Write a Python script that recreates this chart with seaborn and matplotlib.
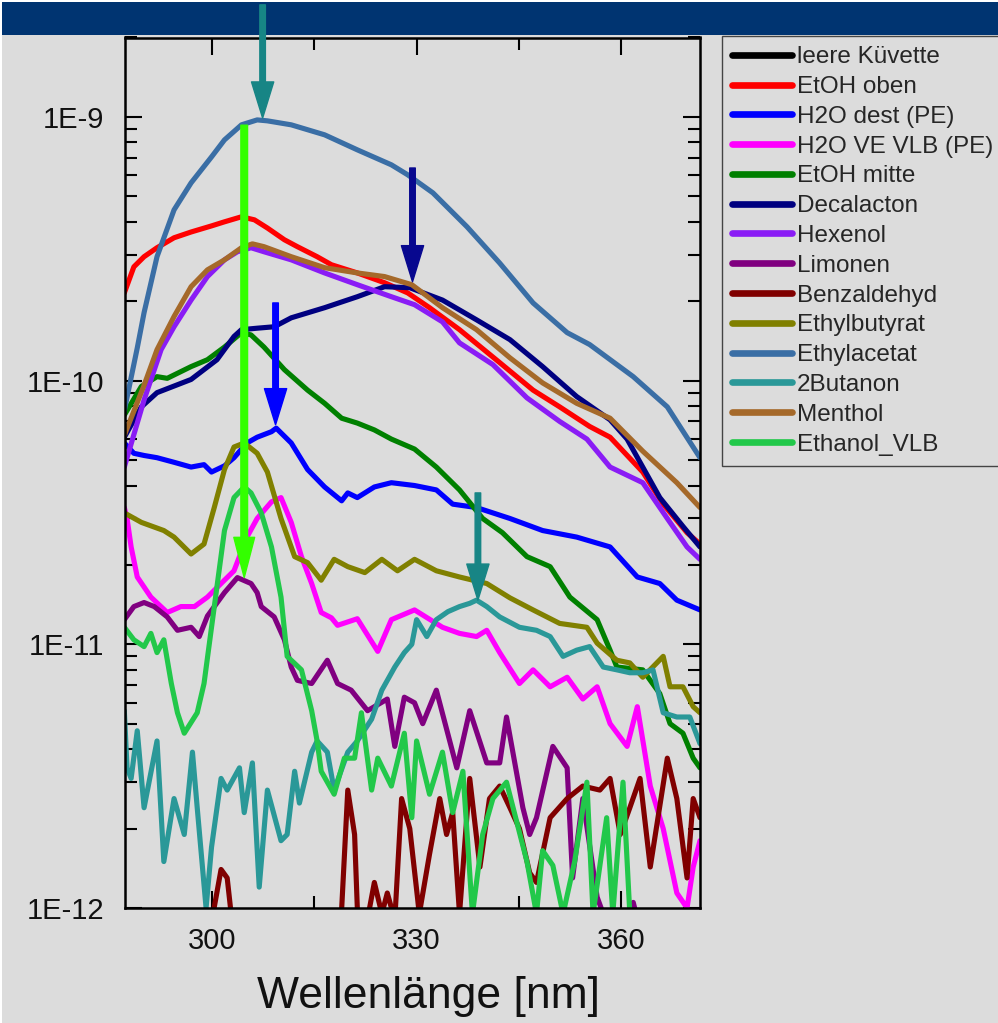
import numpy as np
import pandas as pd
import seaborn as sns
import matplotlib.pyplot as plt
from matplotlib.patches import Rectangle
from matplotlib.ticker import FixedLocator, FuncFormatter, LogLocator, NullFormatter

# signal values, in units of 1E-12
leer_nm = [287.2, 300.0, 315.0, 330.0, 345.0, 360.0, 371.6]
leer_val = [0.4, 0.45, 0.4, 0.35, 0.4, 0.35, 0.3]

etoh_oben_nm = [287.1, 288.5, 290.0, 291.9, 294.4, 296.9, 299.9, 301.8, 304.3, 306.2, 308.1, 310.6, 312.5, 315.4,
                317.5, 321.3, 325.3, 328.7, 331.9, 336.3, 342.2, 347.1, 351.0, 355.4, 358.4, 363.2, 366.2, 369.7, 371.6]
etoh_oben_val = [215, 270, 295, 319, 348, 366, 386, 400, 418, 407, 379, 342, 322, 295,
                 275, 256, 235, 215, 189, 156, 117, 92, 79.5, 67, 61, 45, 34, 26.5, 24]

h2o_dest_nm = [287.1, 288.5, 290.0, 291.9, 294.4, 296.9, 298.8, 299.9, 301.8, 303.2, 305.1, 306.6, 308.7, 309.4,
               311.6, 314.0, 316.5, 319.0, 319.9, 321.3, 323.8, 326.3, 329.7, 332.9, 335.3, 338.8, 343.7, 348.5,
               353.5, 358.4, 362.4, 365.7, 368.2, 371.6]
h2o_dest_val = [58, 53, 52, 51, 49, 47, 48, 45, 47.5, 51, 58, 61, 64, 66,
                58, 46, 39.5, 35, 37.5, 36, 39.5, 41, 40, 38.5, 34, 33, 30, 27,
                25.5, 23.4, 18, 17, 14.7, 13.5]

h2o_ve_nm = [287.1, 287.5, 288.1, 289.0, 291.0, 293.4, 295.4, 297.4, 299.3, 301.3, 303.2, 305.1, 306.6, 308.7,
             310.1, 311.6, 313.1, 314.6, 316.0, 317.5, 318.4, 321.3, 324.3, 326.3, 329.7, 333.8, 336.3, 338.8,
             340.3, 342.2, 345.1, 347.1, 349.6, 352.1, 354.4, 356.5, 358.4, 360.9, 362.4, 364.3, 366.2, 368.2,
             369.7, 370.6, 371.6]
h2o_ve_val = [33, 30, 23.4, 18, 15.1, 13.2, 13.9, 13.9, 15.1, 17, 19, 25.5, 30, 34.7,
              36, 29, 21.5, 17, 13.2, 12.6, 11.8, 12.5, 9.4, 12.4, 13.5, 11.6, 11.0, 10.7,
              11.3, 9.3, 7.1, 8.0, 6.9, 7.5, 6.2, 6.9, 5.0, 4.1, 5.8, 2.9, 2.0, 1.14,
              1.0, 1.43, 1.8]

etoh_mitte_nm = [287.1, 289.6, 291.9, 293.4, 296.9, 299.3, 301.8, 304.3, 305.7, 307.6, 310.6, 314.0, 316.5, 319.0,
                 321.3, 323.8, 326.3, 329.7, 332.9, 336.3, 339.7, 342.6, 346.2, 349.6, 352.5, 356.5, 358.4, 359.4,
                 363.2, 365.7, 367.2, 369.1, 370.6, 371.6]
etoh_mitte_val = [74, 95, 103.5, 102, 113, 120, 134, 152, 149, 134, 110, 92, 82, 72,
                  69, 65, 60, 55, 47, 38.5, 30, 26.5, 21.5, 19.7, 15.1, 12.4, 9.5, 8.2,
                  8.0, 6.5, 5.0, 4.6, 3.7, 3.4]

decalacton_nm = [287.1, 289.6, 291.9, 296.9, 300.7, 303.2, 304.3, 306.6, 309.1, 311.6, 316.5, 321.3, 325.3, 329.0,
                 333.8, 338.8, 343.7, 348.5, 353.5, 358.4, 360.9, 365.7, 369.1, 371.6]
decalacton_val = [61, 79.5, 90, 101, 120, 147, 156, 158, 160, 173, 189, 208, 227, 225,
                  202, 170, 143, 113, 87, 71, 60, 36, 28, 23.4]

hexenol_nm = [287.1, 290.0, 292.5, 294.4, 296.9, 299.3, 301.8, 303.7, 305.7, 307.6, 311.6, 316.5, 321.3, 326.3,
              329.7, 333.8, 336.3, 341.2, 346.2, 351.0, 355.0, 358.4, 363.2, 366.8, 369.7, 371.6]
hexenol_val = [47, 84.5, 131, 160, 202, 248, 287, 308, 319, 308, 287, 256, 231, 208,
               194, 167, 139, 115, 86, 70, 60, 47, 41, 30, 23.4, 21]

limonen_nm = [287.1, 288.5, 290.0, 291.5, 293.4, 294.9, 296.9, 298.1, 299.3, 301.8, 303.7, 305.7, 306.6, 307.2,
              309.1, 310.6, 311.6, 312.5, 314.6, 316.9, 318.4, 320.4, 322.8, 325.7, 326.8, 328.2, 329.7, 330.9,
              332.9, 335.9, 337.8, 340.3, 342.2, 343.2, 345.6, 346.6, 347.6, 350.0, 352.1, 352.9, 354.4, 356.5,
              357.4, 359.2, 361.8, 363.5, 366.0, 369.0, 371.6]
limonen_val = [12.4, 13.9, 14.4, 13.9, 12.7, 11.3, 11.6, 10.7, 12.8, 15.7, 17.9, 17, 15.7, 13.9,
               12.7, 10.4, 8.2, 7.3, 7.1, 8.7, 7.1, 6.7, 5.6, 6.2, 4.1, 6.3, 6.0, 5.0,
               6.7, 3.4, 5.6, 3.55, 3.55, 5.3, 2.4, 1.9, 2.2, 4.1, 3.4, 1.3, 2.6, 1.1,
               0.95, 0.7, 1.05, 0.7, 0.6, 0.5, 0.5]

benzaldehyd_nm = [287.1, 295.0, 299.6, 301.3, 302.2, 303.1, 305.4, 312.0, 318.7, 319.9, 320.9, 321.3, 322.4, 323.8,
                  324.9, 325.7, 326.8, 327.8, 329.0, 330.4, 331.9, 333.4, 334.4, 335.3, 336.3, 337.8, 339.3, 340.7,
                  342.2, 343.7, 345.1, 346.6, 347.6, 349.6, 352.1, 354.4, 356.9, 358.4, 359.9, 361.3, 362.8, 364.3,
                  366.8, 368.2, 369.7, 370.6, 371.6]
benzaldehyd_val = [0.6, 0.5, 0.8, 1.4, 1.3, 0.8, 0.6, 0.5, 0.7, 2.8, 1.9, 1.0, 0.8, 1.25,
                   0.95, 1.14, 0.9, 2.6, 2.0, 0.95, 1.6, 2.6, 1.9, 2.3, 0.95, 3.1, 1.43, 2.6,
                   2.9, 2.4, 2.0, 1.36, 1.25, 2.2, 2.6, 2.9, 2.8, 3.1, 1.9, 2.4, 3.1, 1.43,
                   3.7, 2.6, 1.3, 2.6, 2.2]

ethylbutyrat_nm = [287.1, 289.6, 292.9, 294.4, 296.9, 298.8, 300.3, 301.8, 303.2, 304.7, 306.6, 308.1, 310.1, 312.1,
                   314.0, 316.0, 317.9, 319.9, 322.4, 324.9, 327.2, 329.7, 332.9, 336.3, 340.3, 343.7, 347.1, 351.0,
                   355.0, 356.5, 359.4, 361.3, 363.2, 366.2, 367.2, 369.1, 370.6, 371.6]
ethylbutyrat_val = [31.5, 29, 27, 25.5, 22, 24, 33, 46, 56, 58, 53, 45, 30, 21.5,
                    20.4, 17.5, 21, 19.7, 18.7, 21, 19, 21, 19, 18, 17, 15, 13.5, 12.0,
                    11.6, 10.1, 8.7, 8.5, 7.5, 9.0, 6.9, 6.9, 5.8, 5.5]

ethylacetat_nm = [287.1, 289.0, 290.0, 291.9, 294.4, 296.9, 299.9, 301.8, 304.3, 306.6, 308.1, 311.6, 316.5, 321.3,
                  326.3, 328.7, 332.4, 337.4, 342.2, 347.1, 352.1, 355.4, 361.8, 366.8, 371.6]
ethylacetat_val = [77, 133, 181, 295, 444, 562, 705, 818, 933, 974, 966, 933, 855, 750,
                   658, 603, 515, 383, 279, 197, 152, 137, 103.5, 79.5, 51]

butanon_nm = [287.1, 287.5, 288.1, 289.0, 290.0, 291.9, 292.9, 294.4, 295.9, 297.1, 297.8, 299.1, 299.9, 301.3,
              302.2, 304.0, 304.7, 305.9, 306.9, 308.1, 310.1, 311.0, 312.1, 312.8, 314.6, 315.4, 316.9, 317.9,
              319.9, 321.3, 323.4, 324.9, 326.8, 328.2, 329.3, 330.0, 331.5, 332.9, 334.6, 336.3, 337.8, 338.8,
              340.3, 342.2, 345.1, 347.6, 349.6, 351.5, 353.5, 355.4, 357.4, 359.4, 361.3, 363.2, 364.7, 366.2,
              368.2, 370.1, 371.6]
butanon_val = [5.6, 3.4, 3.1, 4.7, 2.4, 4.3, 1.5, 2.6, 1.9, 3.9, 2.4, 1.0, 1.7, 3.1,
               2.8, 3.4, 2.3, 3.55, 1.2, 2.8, 1.8, 1.9, 3.3, 2.5, 3.9, 4.3, 3.9, 2.8,
               3.9, 4.3, 5.2, 6.7, 8.2, 9.3, 10.0, 12.4, 10.7, 12.4, 13.3, 13.9, 14.3, 14.7,
               13.9, 12.7, 11.6, 11.3, 10.7, 9.0, 9.5, 9.8, 8.2, 8.0, 7.8, 7.8, 8.0, 5.5,
               5.3, 5.3, 4.2]

menthol_nm = [287.1, 290.0, 291.9, 294.4, 296.9, 299.3, 301.8, 304.3, 305.9, 307.6, 311.6, 316.5, 321.3, 325.3,
              329.3, 333.8, 338.8, 343.7, 348.5, 353.5, 358.4, 363.2, 368.2, 371.6]
menthol_val = [62, 96, 131, 175, 227, 263, 287, 319, 330, 322, 295, 268, 256, 248,
               231, 189, 156, 122, 98, 82, 72, 54, 41, 33]

ethanol_vlb_nm = [287.1, 288.5, 290.0, 291.0, 291.9, 292.9, 294.0, 294.9, 295.9, 297.8, 298.8, 299.9, 301.8, 303.2,
                  304.7, 305.7, 307.2, 308.7, 310.1, 311.0, 313.1, 314.6, 315.4, 316.0, 317.9, 319.4, 320.9, 321.9,
                  323.4, 324.3, 326.3, 328.2, 329.3, 330.0, 331.9, 333.8, 335.3, 336.8, 338.2, 339.7, 341.2, 343.2,
                  346.2, 347.6, 348.5, 350.0, 351.5, 353.2, 355.0, 355.9, 357.9, 358.8, 360.3, 361.3, 363.5, 367.2,
                  371.6]
ethanol_vlb_val = [11.6, 10.4, 9.8, 11.0, 9.3, 10.4, 7.1, 5.5, 4.6, 5.5, 7.1, 11.6, 27, 36,
                   39.5, 37.5, 31.5, 23.4, 15.1, 9.0, 8.0, 5.6, 4.3, 3.3, 2.7, 3.7, 3.7, 5.5,
                   2.8, 3.7, 2.9, 4.6, 2.2, 4.3, 2.7, 3.9, 2.3, 3.3, 0.95, 1.9, 2.6, 3.0,
                   1.5, 0.95, 1.65, 1.45, 0.95, 1.5, 3.0, 0.95, 2.2, 0.95, 3.0, 0.95, 0.6, 0.5,
                   0.5]

series = [
    ("leere Küvette", leer_nm, leer_val, "#000000"),
    ("EtOH oben", etoh_oben_nm, etoh_oben_val, "#ff0000"),
    ("H2O dest (PE)", h2o_dest_nm, h2o_dest_val, "#0000ff"),
    ("H2O VE VLB (PE)", h2o_ve_nm, h2o_ve_val, "#ff00ff"),
    ("EtOH mitte", etoh_mitte_nm, etoh_mitte_val, "#008000"),
    ("Decalacton", decalacton_nm, decalacton_val, "#000080"),
    ("Hexenol", hexenol_nm, hexenol_val, "#8a1cf5"),
    ("Limonen", limonen_nm, limonen_val, "#800080"),
    ("Benzaldehyd", benzaldehyd_nm, benzaldehyd_val, "#800000"),
    ("Ethylbutyrat", ethylbutyrat_nm, ethylbutyrat_val, "#808000"),
    ("Ethylacetat", ethylacetat_nm, ethylacetat_val, "#3a6ea5"),
    ("2Butanon", butanon_nm, butanon_val, "#2a9898"),
    ("Menthol", menthol_nm, menthol_val, "#a5692a"),
    ("Ethanol_VLB", ethanol_vlb_nm, ethanol_vlb_val, "#22c84a"),
]

# marker arrows: wavelength, start, end (1E-12 units), colour, shaft/head widths
arrows = [
    (307.4, 2660, 990, "#178585", 0.2, 0.8, 1.3),
    (329.4, 640, 237, "#08088f", 0.2, 0.8, 1.3),
    (309.3, 197, 68, "#0000ff", 0.2, 0.8, 1.3),
    (339.0, 37.5, 14.7, "#178585", 0.2, 0.8, 1.3),
    (304.7, 930, 17.9, "#33ff00", 0.24, 0.75, 1.45),
]

names = [s[0] for s in series]
palette = {s[0]: s[3] for s in series}
rows = []
for name, nm, val, _ in series:
    for x, y in zip(nm, val):
        rows.append((name, x, y * 1e-12))
df = pd.DataFrame(rows, columns=["probe", "wl", "signal"])

bg = "#dcdcdc"
sns.set_theme(style="ticks")
plt.rcParams["font.family"] = ["Liberation Sans", "DejaVu Sans"]

W, H = 998, 1023
fig = plt.figure(figsize=(W / 100, H / 100), dpi=100, facecolor=bg)
# header bar
fig.patches.append(Rectangle((0, 1 - 35 / H), 1, 35 / H, transform=fig.transFigure,
                             facecolor="#003471", edgecolor="none", zorder=-2))
fig.patches.append(Rectangle((0, 1 - 2 / H), 1, 2 / H, transform=fig.transFigure,
                             facecolor="white", edgecolor="none", zorder=-1))
fig.patches.append(Rectangle((0, 0), 2 / W, 1, transform=fig.transFigure,
                             facecolor="white", edgecolor="none", zorder=-1))

ax = fig.add_axes([125 / W, 1 - 908 / H, 575 / W, 870.5 / H])
ax.set_facecolor(bg)

sns.lineplot(data=df, x="wl", y="signal", hue="probe", hue_order=names, palette=palette,
             estimator=None, linewidth=3.7, ax=ax)
ax.set_yscale("log")
ax.set_xlim(287.2, 371.6)
ax.set_ylim(1e-12, 2e-9)

ax.xaxis.set_major_locator(FixedLocator([300, 330, 360]))
ax.xaxis.set_minor_locator(FixedLocator([315, 345]))
ax.yaxis.set_major_locator(LogLocator(base=10))
ax.yaxis.set_minor_locator(LogLocator(base=10, subs=np.arange(2, 10)))
ax.yaxis.set_minor_formatter(NullFormatter())
ax.yaxis.set_major_formatter(FuncFormatter(lambda v, p: f"1E{int(round(np.log10(v)))}"))

ax.tick_params(which="both", direction="in", top=True, right=True, color="black", width=1.5,
               labelsize=21, labelcolor="#111111")
ax.tick_params(which="major", length=12)
ax.tick_params(which="minor", length=8.5)
ax.tick_params(axis="y", pad=15)
ax.tick_params(axis="x", pad=14)
for sp in ax.spines.values():
    sp.set_linewidth(1.8)
    sp.set_color("black")

ax.set_xlabel("Wellenlänge [nm]", fontsize=32, color="#111111")
ax.xaxis.set_label_coords(0.528, -0.078)
ax.set_ylabel("")

for x, y0, y1, col, tw, hw, hl in arrows:
    ax.annotate("", xy=(x, y1 * 1e-12), xytext=(x, y0 * 1e-12), annotation_clip=False,
                arrowprops=dict(arrowstyle=f"simple,head_length={hl},head_width={hw},tail_width={tw}",
                                color=col, shrinkA=0, shrinkB=0, mutation_scale=20))

old = ax.get_legend()
handles = old.legend_handles
labels = [t.get_text() for t in old.get_texts()]
old.remove()
for h in handles:
    h.set_linewidth(4.8)
    h.set_solid_capstyle("round")
leg = ax.legend(handles, labels, loc="upper left", bbox_to_anchor=(722 / W, 1 - 36 / H),
                bbox_transform=fig.transFigure, fontsize=17.5, frameon=True, fancybox=False,
                facecolor=bg, edgecolor="#444444", framealpha=1, borderpad=0.42, borderaxespad=0,
                handlelength=2.45, handletextpad=0.22, labelspacing=0.32)
leg.get_frame().set_linewidth(1.0)

fig.savefig("out.png", dpi=100, facecolor=bg)
